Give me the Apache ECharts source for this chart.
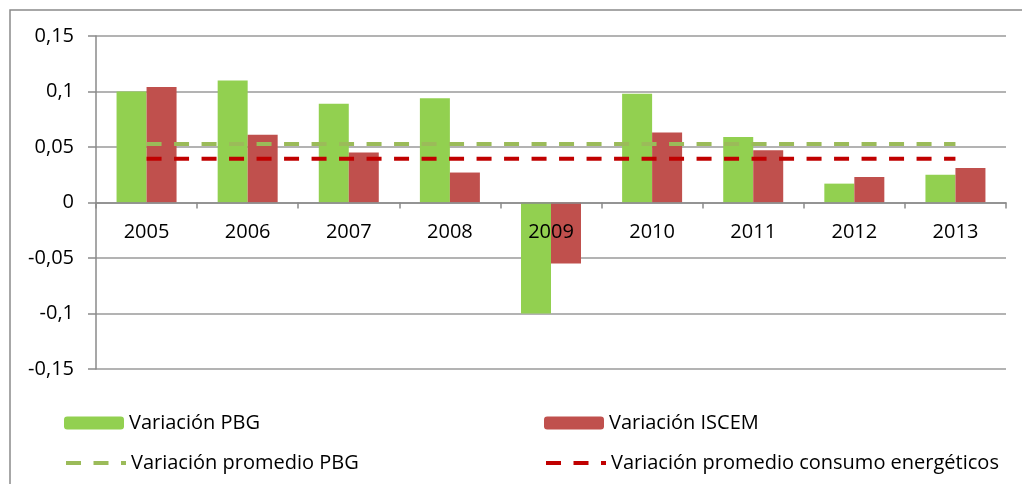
<!DOCTYPE html>
<html>
<head>
<meta charset="utf-8">
<script src="https://cdn.jsdelivr.net/npm/echarts@6/dist/echarts.min.js"></script>
<style>
html,body{margin:0;padding:0;background:#fff;}
#chart{width:1022px;height:484px;}
</style>
</head>
<body>
<div id="chart"></div>
<script>
const categories = ['2005','2006','2007','2008','2009','2010','2011','2012','2013'];
const variacionPBG = [0.100, 0.110, 0.089, 0.094, -0.100, 0.098, 0.059, 0.017, 0.025];
const variacionISCEM = [0.104, 0.061, 0.045, 0.027, -0.055, 0.063, 0.047, 0.023, 0.031];
const promedioPBG = [0.0526, 0.0526, 0.0526, 0.0526, 0.0526, 0.0526, 0.0526, 0.0526, 0.0526];
const promedioConsumo = [0.0394, 0.0394, 0.0394, 0.0394, 0.0394, 0.0394, 0.0394, 0.0394, 0.0394];
const yTickLabels = ['-0,15','-0,1','-0,05','0','0,05','0,1','0,15'];

const FONT = '"Open Sans", sans-serif';
const chart = echarts.init(document.getElementById('chart'));
const legendText = {fontFamily: FONT, fontSize: 20, color: '#000', lineHeight: 20};
function mkLegend(name, left, top, lineColor) {
  const l = {data: [name], left: left, top: top, padding: 0, itemWidth: 60, itemHeight: 13,
          itemGap: 0, textStyle: legendText, selectedMode: false};
  if (lineColor) {
    l.itemStyle = {opacity: 0};
    l.lineStyle = {width: 4, color: lineColor, type: [15, 12.5]};
  }
  return l;
}
chart.setOption({
  animation: false,
  backgroundColor: '#fff',
  graphic: [{type: 'rect', shape: {x: 10, y: 10, width: 1200, height: 700},
             style: {fill: 'none', stroke: '#8a8a8a', lineWidth: 1.5}, silent: true}],
  grid: {left: 96, right: 16, top: 36, bottom: 115},
  legend: [
    mkLegend('Variación PBG', 64, 413),
    mkLegend('Variación ISCEM', 544, 413),
    mkLegend('Variación promedio PBG', 64, 453, '#9BBB59'),
    mkLegend('Variación promedio consumo energéticos', 544, 453, '#C00000')
  ],
  xAxis: {
    type: 'category', data: categories, boundaryGap: true, offset: -166.5, z: 10,
    axisLine: {onZero: false, lineStyle: {color: '#8a8a8a', width: 1.5}},
    axisTick: {show: true, length: 6, lineStyle: {color: '#8a8a8a', width: 1.5}},
    axisLabel: {fontFamily: FONT, fontSize: 20, color: '#000', margin: 20},
    splitLine: {show: false}
  },
  yAxis: {
    type: 'value', min: -0.15, max: 0.15, interval: 0.05,
    axisLine: {show: true, lineStyle: {color: '#8a8a8a', width: 1.5}},
    axisTick: {show: true, length: 8, lineStyle: {color: '#8a8a8a', width: 1.5}},
    axisLabel: {fontFamily: FONT, fontSize: 20, color: '#000', margin: 22,
                formatter: function (v, i) { return yTickLabels[i]; }},
    splitLine: {show: true, lineStyle: {color: '#9a9a9a', width: 1.5}}
  },
  series: [
    {name: 'Variación PBG', type: 'bar', data: variacionPBG, barWidth: 30, barGap: '0%',
     itemStyle: {color: '#92D050'}},
    {name: 'Variación ISCEM', type: 'bar', data: variacionISCEM, barWidth: 30, barGap: '0%',
     itemStyle: {color: '#C0504D'}},
    {name: 'Variación promedio PBG', type: 'line', data: promedioPBG, symbol: 'none',
     lineStyle: {color: '#9BBB59', width: 4, type: [15, 12.5]}, itemStyle: {color: '#9BBB59'}, z: 5},
    {name: 'Variación promedio consumo energéticos', type: 'line', data: promedioConsumo, symbol: 'none',
     lineStyle: {color: '#C00000', width: 4, type: [15, 12.5]}, itemStyle: {color: '#C00000'}, z: 5}
  ]
});
</script>
</body>
</html>
